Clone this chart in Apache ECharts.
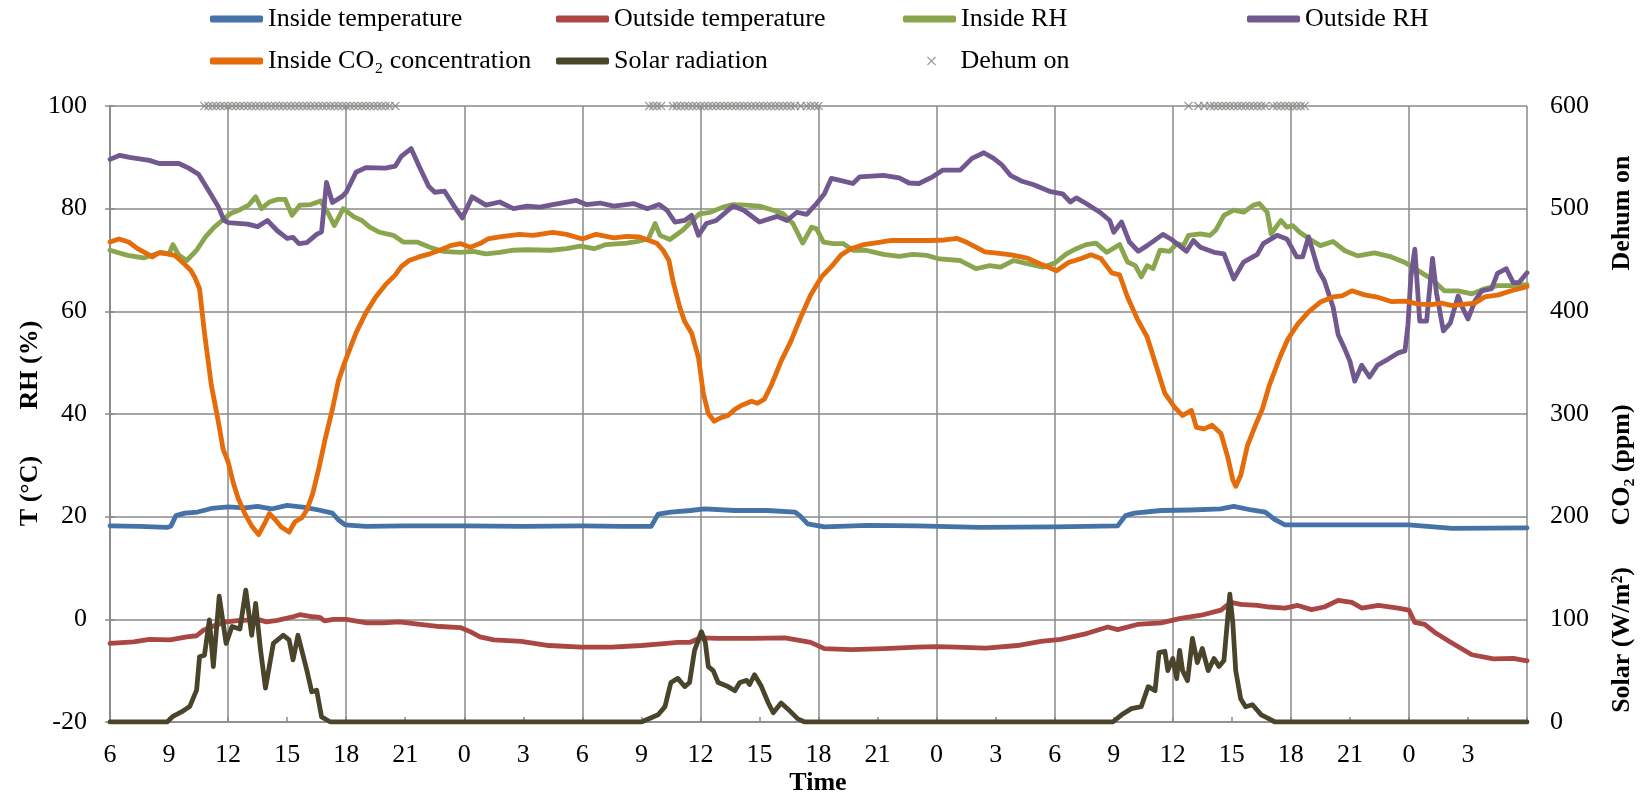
<!DOCTYPE html>
<html>
<head>
<meta charset="utf-8">
<script src="https://cdn.jsdelivr.net/npm/echarts@6/dist/echarts.min.js"></script>
<style>html,body{margin:0;padding:0;background:#fff;}#c{width:1646px;height:801px;}</style>
</head>
<body>
<div id="c"></div>
<script>
// Hours are counted from 06:00 of the first day.
const hourLabels = ['6','9','12','15','18','21','0','3','6','9','12','15','18','21','0','3','6','9','12','15','18','21','0','3',''];

const insideTemp = [[0,18.2],[1.5,18.1],[2.9,17.9],[3.1,18.2],[3.35,20.2],[3.8,20.7],[4.45,20.9],[5.15,21.6],[6,21.9],[6.85,21.7],[7.5,22],[8.2,21.5],[9,22.2],[9.9,21.8],[10.6,21.3],[11.3,20.7],[11.6,19.4],[11.95,18.4],[13,18.1],[15,18.2],[18,18.2],[21,18.1],[24,18.2],[26,18.1],[27.5,18.1],[27.85,20.5],[28.5,20.9],[29.5,21.2],[30.2,21.5],[31.75,21.2],[33.4,21.2],[34.8,20.9],[35.05,20.2],[35.45,18.6],[36.3,18],[38.5,18.3],[41,18.2],[44.2,17.9],[48,18],[51.2,18.2],[51.6,20.2],[52.05,20.7],[53.4,21.2],[54.9,21.3],[56.45,21.5],[57.1,22],[58,21.3],[58.7,20.9],[59.2,19.4],[59.7,18.4],[62.1,18.4],[66,18.4],[68.2,17.7],[72,17.8]];

const outsideTemp = [[0,-4.7],[1.2,-4.4],[2,-3.9],[3.05,-4.0],[3.9,-3.4],[4.4,-3.2],[4.75,-2.1],[5.25,-1.3],[5.9,-0.5],[6.6,-0.2],[7.6,-0.1],[7.95,-0.5],[8.5,-0.2],[9.3,0.5],[9.65,0.9],[10.3,0.5],[10.65,0.4],[10.9,-0.3],[11.35,0],[12,0],[13.05,-0.7],[13.9,-0.7],[14.7,-0.5],[15.75,-1.0],[16.75,-1.4],[17.8,-1.6],[18.3,-2.4],[18.8,-3.4],[19.5,-4.0],[20.9,-4.3],[22.3,-5.1],[23.95,-5.4],[25.5,-5.4],[27,-5.1],[28,-4.8],[28.85,-4.5],[29.45,-4.5],[30,-3.6],[30.9,-3.7],[32.6,-3.7],[34.3,-3.6],[35.6,-4.5],[36.3,-5.7],[37.65,-5.9],[39.35,-5.7],[41,-5.4],[42,-5.3],[43,-5.4],[44.5,-5.6],[46.1,-5.1],[47.3,-4.3],[48.3,-3.9],[49.5,-2.9],[50.7,-1.5],[51.2,-2.0],[52.2,-1.0],[53.4,-0.7],[54.4,0.2],[55.45,0.8],[56.45,1.8],[56.95,3.3],[57.45,2.9],[58.3,2.7],[58.9,2.4],[59.7,2.2],[60.35,2.7],[61.05,1.9],[61.7,2.4],[62.4,3.7],[63.1,3.3],[63.6,2.2],[64.45,2.7],[65.45,2.2],[66,1.8],[66.3,-0.6],[66.8,-1.0],[67.3,-2.5],[68.1,-4.4],[69.2,-6.9],[70.3,-7.7],[71.3,-7.6],[72,-8.1]];

const insideRH = [[0,71.9],[0.9,70.9],[1.7,70.4],[2.6,71.5],[3.0,71.2],[3.2,73],[3.5,70.9],[3.9,69.9],[4.4,71.9],[4.85,74.5],[5.3,76.4],[5.7,77.7],[6.1,79],[6.6,79.8],[7.05,80.7],[7.4,82.3],[7.7,80],[8.1,81.3],[8.5,81.8],[8.9,81.8],[9.25,78.7],[9.65,80.7],[10.2,80.8],[10.7,81.5],[11.1,79],[11.4,76.7],[11.85,80],[12.4,78.4],[12.8,77.7],[13.2,76.4],[13.7,75.4],[14.4,74.8],[14.9,73.5],[15.6,73.5],[16.25,72.5],[16.9,71.7],[17.8,71.5],[18.45,71.7],[19.1,71.2],[19.8,71.5],[20.5,71.9],[21.2,72],[22.4,71.9],[23.2,72.2],[23.9,72.7],[24.6,72.2],[25.2,73],[26.25,73.3],[26.9,73.7],[27.35,74.1],[27.7,77.1],[27.95,74.8],[28.45,74],[29.1,75.8],[29.6,77.7],[29.95,79],[30.5,79.3],[31.15,80.3],[31.65,80.8],[32.3,80.7],[33,80.5],[33.7,79.7],[34.2,79],[34.7,77.1],[35.2,73.3],[35.65,76.4],[35.9,76.1],[36.25,73.5],[36.75,73.2],[37.25,73.2],[37.75,71.9],[38.4,71.9],[39.3,71.1],[40.1,70.7],[40.8,71.1],[41.5,70.9],[42.15,70.2],[43.2,69.9],[44,68.3],[44.7,68.9],[45.25,68.6],[45.9,69.9],[46.6,69.3],[47.4,68.6],[48,69.4],[48.6,71.2],[49.1,72.2],[49.6,73],[50.1,73.3],[50.65,71.5],[51.3,73],[51.7,69.6],[52.1,68.9],[52.4,66.7],[52.7,68.9],[53,68.3],[53.35,71.9],[53.85,71.7],[54.2,73.2],[54.55,72.8],[54.8,74.8],[55.4,75.1],[55.9,74.8],[56.2,75.9],[56.6,78.7],[57.1,79.7],[57.6,79.3],[58.1,80.7],[58.4,81],[58.8,79.3],[59,75.1],[59.3,76.7],[59.5,77.7],[59.8,76.4],[60.1,76.7],[60.45,75.4],[60.95,74.1],[61.5,72.8],[62.15,73.6],[62.75,71.8],[63.4,70.8],[64.25,71.4],[65.1,70.6],[65.8,69.5],[66.65,67.5],[67.15,66.3],[67.8,64],[68.5,64],[69.2,63.4],[69.85,64.4],[70.5,65],[71.4,65],[72,65.2]];

const outsideRH = [[0,89.6],[0.5,90.4],[1,90],[2,89.4],[2.5,88.8],[3.5,88.8],[4,87.9],[4.5,86.7],[5,83.6],[5.5,80.4],[5.8,77.7],[6,77.3],[7,77],[7.5,76.5],[8,77.7],[8.5,75.7],[9,74.2],[9.3,74.4],[9.6,73.2],[10,73.4],[10.5,75],[10.75,75.5],[11,85.1],[11.3,81.2],[11.8,82.4],[12,83.2],[12.5,87.1],[13,88],[14,87.9],[14.5,88.3],[14.8,90.2],[15.3,91.7],[15.7,88.3],[16.2,84.3],[16.5,83.2],[17,83.4],[17.5,80.4],[17.9,78.2],[18.4,82.3],[19.1,80.7],[19.8,81.3],[20.5,80],[21.2,80.5],[21.85,80.3],[22.5,80.8],[23.7,81.6],[24.2,80.8],[24.9,81.1],[25.6,80.5],[26.6,81],[27.3,80],[27.9,80.8],[28.3,79.7],[28.7,77.4],[29.2,77.7],[29.55,78.7],[29.9,74.8],[30.3,77.1],[30.8,77.7],[31.65,80.5],[32.2,79.7],[33,77.4],[33.9,78.5],[34.4,77.7],[34.9,79.3],[35.4,78.9],[35.9,81],[36.3,82.9],[36.65,85.9],[37.1,85.5],[37.75,84.9],[38.1,86.2],[39.3,86.5],[40.1,86],[40.6,85],[41.1,84.9],[41.8,86.2],[42.3,87.5],[43.2,87.5],[43.8,89.8],[44.4,90.9],[44.9,89.8],[45.3,88.6],[45.75,86.5],[46.3,85.4],[46.9,84.7],[47.8,83.3],[48.4,82.9],[48.8,81.3],[49.1,82.1],[49.6,81],[50.3,79.3],[50.8,77.7],[51,75.4],[51.4,77.4],[51.8,73.5],[52.25,71.7],[52.7,72.8],[53.5,75],[53.9,74.1],[54.7,71.7],[55.05,73.8],[55.4,72.5],[56.1,71.5],[56.6,71.2],[57.1,66.3],[57.6,69.6],[58.3,71.1],[58.6,73.2],[59.3,74.8],[59.8,74.1],[60.3,70.6],[60.6,70.6],[60.9,74.5],[61.4,68],[61.7,66],[62.15,60.8],[62.4,55.5],[62.75,52.6],[63,50.3],[63.25,46.4],[63.6,49.5],[64,47.2],[64.4,49.5],[64.95,50.7],[65.45,51.9],[65.8,52.3],[65.95,57.3],[66.1,66.7],[66.3,72.1],[66.55,58.1],[66.9,58.1],[67.2,70.3],[67.4,63.6],[67.75,56.2],[68.1,57.7],[68.5,63],[68.75,60.5],[69,58.5],[69.35,62],[69.7,64],[70.2,64.4],[70.5,67.4],[70.95,68.3],[71.3,65.6],[71.6,65.6],[72,67.5]];

const insideCO2 = [[0,467.5],[0.45,470.5],[0.95,467.5],[1.4,461],[1.9,456],[2.15,453],[2.5,457],[2.9,456],[3.3,454.5],[3.75,446.5],[4.1,440],[4.3,433.5],[4.55,422],[4.8,379],[5.15,328],[5.5,293],[5.75,265.5],[6,253.5],[6.25,234],[6.5,218.5],[6.85,203],[7.2,191],[7.55,182.5],[7.9,195],[8.1,203],[8.4,197],[8.7,190],[9.1,185],[9.4,195],[9.75,199],[10,206.5],[10.3,222.5],[10.6,246],[10.95,277],[11.3,304.5],[11.6,332],[11.95,351.5],[12.5,379],[13,398.5],[13.5,414],[14,426],[14.5,435.5],[14.8,443.5],[15.2,449.5],[15.7,453],[16.25,456],[16.75,459.5],[17.3,464],[17.8,466],[18.3,462.5],[18.8,466],[19.2,470.5],[19.8,472.5],[20.8,475],[21.5,474],[22.5,477],[23.2,475],[24,470.5],[24.7,475],[25.6,471.5],[26.25,473],[26.9,472.5],[27.4,469],[27.8,466],[28.1,459.5],[28.4,449.5],[28.6,430],[28.95,404],[29.2,390],[29.55,379],[29.9,355],[30.15,320],[30.4,300.5],[30.7,293],[31.05,296.5],[31.4,298.5],[31.75,304.5],[32.1,308.5],[32.6,312.5],[32.9,310.5],[33.25,314.5],[33.6,328],[34.1,351.5],[34.6,371],[35.1,394.5],[35.6,416],[36.15,433.5],[36.65,443.5],[37.15,455],[37.65,461],[38.3,465],[39,467],[39.7,469],[40.35,469],[41.05,469],[41.7,469],[42.4,469.5],[43.05,471],[43.55,467],[43.95,463],[44.45,458],[44.95,457],[45.8,455],[46.65,451.5],[47.3,446],[48.1,439.5],[48.7,447.5],[49.35,451.5],[49.85,455],[50.35,451.5],[50.9,437.5],[51.3,435.5],[51.7,414],[52.2,392.5],[52.7,375],[53.15,347.5],[53.6,320],[54.1,306.5],[54.5,298.5],[54.95,303.5],[55.2,287],[55.6,285.5],[56,289],[56.45,281],[56.8,257.5],[57.05,236],[57.2,229.5],[57.45,240],[57.8,269.5],[58.2,289],[58.55,304.5],[58.9,327.5],[59.45,355.5],[59.85,373],[60.35,387.5],[60.9,399.5],[61.5,409],[62.15,414],[62.6,415],[63.1,420],[63.75,416],[64.45,413.5],[65.1,409.5],[65.8,410],[66.5,407],[67.15,406.5],[67.65,408],[68.2,405.5],[68.85,407],[69.35,408],[69.85,414],[70.55,416],[71.2,420],[72,424]];

const solarRad = [[0,0],[2.9,0],[3.2,5.5],[3.65,10],[4.05,15],[4.4,31],[4.55,63.5],[4.8,65],[5.05,99.5],[5.25,54],[5.55,122.5],[5.9,76.5],[6.2,93],[6.6,90.5],[6.9,128.5],[7.2,84.5],[7.4,115.5],[7.65,70],[7.9,33],[8.3,76.5],[8.8,84.5],[9.1,80],[9.3,60.5],[9.55,84.5],[10,50.5],[10.25,29.5],[10.5,31],[10.75,5],[11.2,0],[27,0],[27.85,7],[28.2,15],[28.5,38.5],[28.85,42.5],[29.2,34.5],[29.45,38.5],[29.7,69.5],[30.05,88],[30.25,77.5],[30.4,54],[30.65,50],[30.9,38.5],[31.4,34.5],[31.75,30.5],[32,38.5],[32.35,40.5],[32.5,36.5],[32.75,46],[33.1,34.5],[33.45,18.5],[33.7,9],[34.1,18.5],[34.45,12.5],[34.95,3],[35.3,0],[50.95,0],[51.4,7],[51.9,13],[52.4,15],[52.75,34.4],[53.1,30.5],[53.3,67.7],[53.6,68.9],[53.75,50],[54,61.8],[54.2,42.3],[54.35,69.7],[54.5,50],[54.75,40.3],[55,81.4],[55.25,57.9],[55.5,71.6],[55.8,50],[56.1,61.8],[56.35,54],[56.6,59.9],[56.9,124.5],[57.05,97],[57.2,50],[57.45,22.7],[57.7,14.9],[58.05,16.8],[58.5,7],[58.9,3],[59.2,0],[72,0]];

const dehumOnHours = [4.8,5,5.2,5.4,5.6,5.8,6,6.2,6.4,6.6,6.8,7,7.2,7.4,7.6,7.8,8,8.2,8.4,8.6,8.8,9,9.2,9.4,9.6,9.8,10,10.2,10.4,10.6,10.8,11,11.2,11.4,11.6,11.8,12,12.2,12.4,12.6,12.8,13,13.2,13.4,13.6,13.8,14,14.2,14.5,
27.4,27.6,27.8,28,28.6,28.8,29,29.2,29.4,29.6,29.8,30,30.2,30.4,30.6,30.8,31,31.2,31.4,31.6,31.8,32,32.2,32.4,32.6,32.8,33,33.2,33.4,33.6,33.8,34,34.2,34.4,34.6,34.8,35.1,35.4,35.6,35.8,36,
54.8,55.3,55.6,55.9,56.1,56.3,56.5,56.7,56.9,57.1,57.3,57.5,57.7,57.9,58.1,58.3,58.5,58.7,59.1,59.3,59.5,59.7,59.9,60.1,60.3,60.5,60.7];
const dehumLevel = 600;

const FONT = "'Liberation Serif','Times New Roman',serif";
const GRID_COLOR = '#8a8a8a';
const colors = {
  inT: '#4572A7', outT: '#AA4643', inRH: '#89A54E', outRH: '#71588F', co2: '#E46C0A', solar: '#4A452A', dehum: '#8a8783'
};
const xPath = 'path://M0,1L1,0L5,4L9,0L10,1L6,5L10,9L9,10L5,6L1,10L0,9L4,5Z';

function lineSeries(name, data, color, yAxisIndex) {
  return {
    name: name, type: 'line', data: data, yAxisIndex: yAxisIndex, xAxisIndex: 0,
    showSymbol: false, symbol: 'none', color: color,
    lineStyle: { color: color, width: 4.8, cap: 'round', join: 'round' }
  };
}

function legendItem(name, left, top, iconW, icon) {
  return {
    data: [name], left: left, top: top, padding: 0, orient: 'horizontal',
    itemWidth: iconW, itemHeight: icon === 'roundRect' ? 7 : 9, icon: icon,
    symbolKeepAspect: true,
    textStyle: { fontFamily: FONT, fontSize: 26, color: '#000' },
    selectedMode: false
  };
}

const chart = echarts.init(document.getElementById('c'), null, { renderer: 'canvas' });
const titleFont = "bold 26px " + FONT;
chart.setOption({
  animation: false,
  backgroundColor: '#fff',
  grid: { left: 110, right: 119, top: 106, bottom: 79, containLabel: false },
  legend: [
    legendItem('Inside temperature', 210, 6, 53, 'roundRect'),
    legendItem('Outside temperature', 556, 6, 53, 'roundRect'),
    legendItem('Inside RH', 903, 6, 53, 'roundRect'),
    legendItem('Outside RH', 1247, 6, 53, 'roundRect'),
    legendItem('Inside CO₂ concentration', 210, 48, 53, 'roundRect'),
    legendItem('Solar radiation', 556, 48, 53, 'roundRect'),
    legendItem('Dehum on', 927, 48, 48, xPath)
  ],
  xAxis: [{
    type: 'value', min: 0, max: 72, interval: 3,
    axisLine: { show: true, onZero: false, lineStyle: { color: GRID_COLOR, width: 1.5 } },
    axisTick: { show: true, inside: true, length: 5, lineStyle: { color: GRID_COLOR, width: 1.5 } },
    axisLabel: { margin: 20, fontFamily: FONT, fontSize: 26, color: '#000',
      formatter: function (v) { return hourLabels[Math.round(v / 3)]; } },
    splitLine: { show: false }
  }, {
    type: 'value', min: 0, max: 72, interval: 6, position: 'bottom',
    axisLine: { show: false }, axisTick: { show: false }, axisLabel: { show: false },
    splitLine: { show: true, lineStyle: { color: GRID_COLOR, width: 1.5 } }
  }],
  yAxis: [{
    type: 'value', min: -20, max: 100, interval: 20, position: 'left',
    axisLine: { show: true, lineStyle: { color: GRID_COLOR, width: 1.5 } },
    axisTick: { show: true, length: 5, lineStyle: { color: GRID_COLOR, width: 1.5 } },
    axisLabel: { margin: 23, fontFamily: FONT, fontSize: 26, color: '#000' },
    splitLine: { show: true, lineStyle: { color: GRID_COLOR, width: 1.5 } }
  }, {
    type: 'value', min: 0, max: 600, interval: 100, position: 'right',
    axisLine: { show: true, lineStyle: { color: GRID_COLOR, width: 1.5 } },
    axisTick: { show: true, length: 5, lineStyle: { color: GRID_COLOR, width: 1.5 } },
    axisLabel: { margin: 23, fontFamily: FONT, fontSize: 26, color: '#000' },
    splitLine: { show: false }
  }],
  graphic: [
    { type: 'text', x: 30, y: 365, rotation: Math.PI / 2, style: { text: 'RH (%)', font: titleFont, fill: '#000', textAlign: 'center', textVerticalAlign: 'middle' } },
    { type: 'text', x: 30, y: 491, rotation: Math.PI / 2, style: { text: 'T (°C)', font: titleFont, fill: '#000', textAlign: 'center', textVerticalAlign: 'middle' } },
    { type: 'text', x: 1622, y: 213, rotation: Math.PI / 2, style: { text: 'Dehum on', font: titleFont, fill: '#000', textAlign: 'center', textVerticalAlign: 'middle' } },
    { type: 'text', x: 1622, y: 465, rotation: Math.PI / 2, style: { text: 'CO₂ (ppm)', font: titleFont, fill: '#000', textAlign: 'center', textVerticalAlign: 'middle' } },
    { type: 'text', x: 1622, y: 640, rotation: Math.PI / 2, style: { text: 'Solar (W/m²)', font: titleFont, fill: '#000', textAlign: 'center', textVerticalAlign: 'middle' } },
    { type: 'text', x: 818, y: 783, style: { text: 'Time', font: titleFont, fill: '#000', textAlign: 'center', textVerticalAlign: 'middle' } }
  ],
  series: [
    lineSeries('Inside temperature', insideTemp, colors.inT, 0),
    lineSeries('Outside temperature', outsideTemp, colors.outT, 0),
    lineSeries('Inside RH', insideRH, colors.inRH, 0),
    lineSeries('Outside RH', outsideRH, colors.outRH, 0),
    lineSeries('Inside CO₂ concentration', insideCO2, colors.co2, 1),
    lineSeries('Solar radiation', solarRad, colors.solar, 1),
    {
      name: 'Dehum on', type: 'scatter', xAxisIndex: 0, yAxisIndex: 1, clip: false,
      data: dehumOnHours.map(function (h) { return [h, dehumLevel]; }),
      symbol: xPath, symbolSize: 9, color: colors.dehum,
      itemStyle: { color: colors.dehum }
    }
  ]
});
</script>
</body>
</html>
